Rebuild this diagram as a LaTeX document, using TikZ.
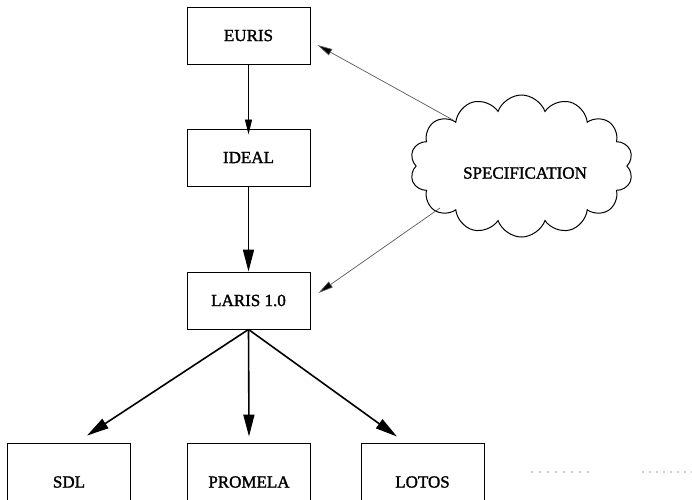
\documentclass[tikz,border=0pt]{standalone}
\usepackage{fontspec}
\setmainfont{Liberation Serif}
\newfontfamily\lblfont[BoldFont={Liberation Serif},BoldFeatures={FakeBold=1.6}]{Liberation Serif}
\usetikzlibrary{arrows.meta,shapes.symbols}
\begin{document}
\begin{tikzpicture}[x=1pt,y=-1pt,
  lbl/.style={font=\lblfont\bfseries\fontsize{17}{20}\selectfont},
  box/.style={draw,line width=0.9pt,minimum width=123pt,minimum height=57pt,inner sep=0pt,lbl},
  lowbox/.style={box,minimum height=78pt},
  thinarrow/.style={line width=0.8pt,-{Triangle[length=15pt,width=7pt]}},
  thickarrow/.style={line width=1.6pt,-{Triangle[length=22pt,width=11pt]}},
  feed/.style={line width=0.7pt,draw=black!65,-{Triangle[length=15pt,width=7pt,fill=black]}},
  dotline/.style={line width=1.4pt,draw=black!85,line cap=round}]
\useasboundingbox (0,0) rectangle (692,499);
\node[box] (euris) at (248.5,35.5) {EURIS};
\node[box] (ideal) at (248.5,157.5) {IDEAL};
\node[box] (laris) at (248.5,300.5) {LARIS 1.0};
\node[lowbox] (sdl) at (69,482) {SDL};
\node[lowbox] (promela) at (249,482) {PROMELA};
\node[lowbox] (lotos) at (422.5,482) {LOTOS};
\node[cloud,draw,line width=1pt,cloud puffs=14,cloud puff arc=140,cloud ignores aspect,
  minimum width=223pt,minimum height=142pt,inner sep=0pt] (spec) at (521.5,166) {};
\node[lbl] (spectext) at (525,173) {SPECIFICATION};
\draw[thinarrow] (euris.south) -- ([yshift=-6pt]ideal.north);
\draw[thickarrow] (ideal.south) -- (laris.north);
\draw[thickarrow] (laris.south) -- ([shift={(18,-7)}]sdl.north);
\draw[thickarrow] (laris.south) -- ([shift={(0,-6)}]promela.north);
\draw[thickarrow] (laris.south) -- ([shift={(-25.5,-6)}]lotos.north);
\draw[feed] ([shift={(-68.5,-46)}]spec.center) -- ([shift={(7,9.5)}]euris.east);
\draw[feed] ([shift={(-81.5,42)}]spec.center) -- ([shift={(8,-7.5)}]laris.east);
\draw[dotline,dash pattern=on 0pt off 8pt] (532,472) -- (590,472);
\draw[dotline,dash pattern=on 0pt off 7pt] (643,472) -- (693,472);
\end{tikzpicture}
\end{document}
